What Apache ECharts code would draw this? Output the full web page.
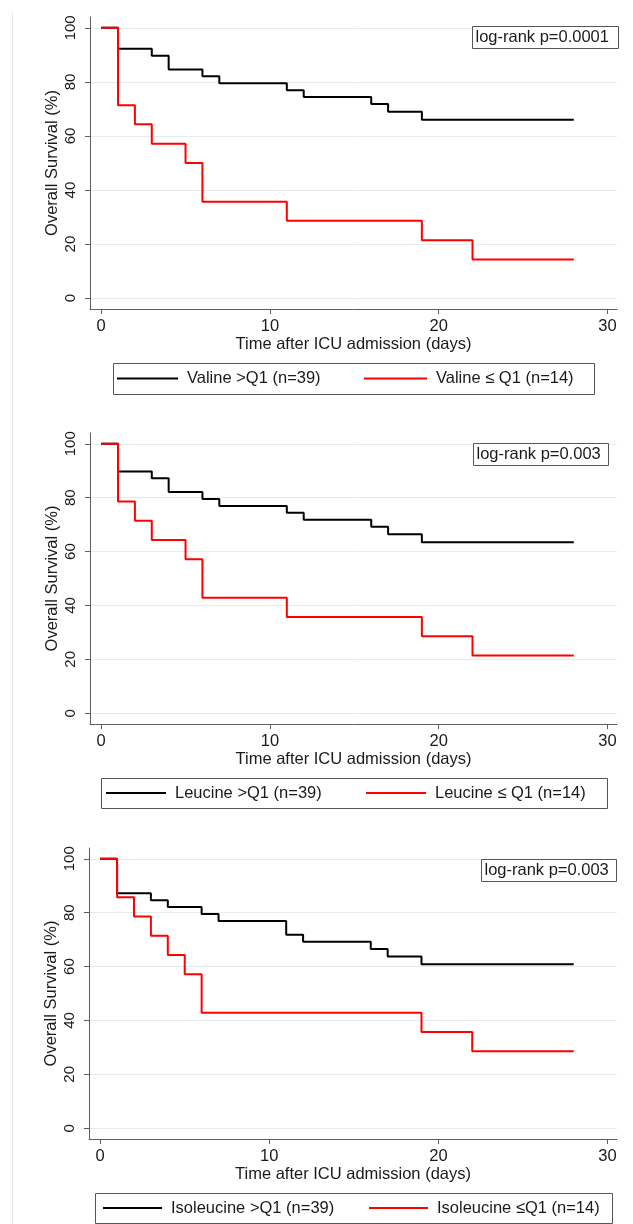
<!DOCTYPE html>
<html>
<head>
<meta charset="utf-8">
<script src="https://cdn.jsdelivr.net/npm/echarts@6/dist/echarts.min.js"></script>
<style>
html,body{margin:0;padding:0;background:#fff;}
#chart{width:633px;height:1224px;}
</style>
</head>
<body>
<div id="chart"></div>
<script>
// ---- data ----
const xTicks = [0, 10, 20, 30];
const yTicks = [0, 20, 40, 60, 80, 100];

const highNames = ['Valine >Q1 (n=39)', 'Leucine >Q1 (n=39)', 'Isoleucine >Q1 (n=39)'];
const lowNames = ['Valine \u2264 Q1 (n=14)', 'Leucine \u2264 Q1 (n=14)', 'Isoleucine \u2264Q1 (n=14)'];
const pValues = ['log-rank p=0.0001', 'log-rank p=0.003', 'log-rank p=0.003'];

const valineHighTime = [0, 1, 3, 4, 6, 7, 11, 12, 16, 17, 19, 28];
const valineHighSurv = [100, 92.3, 89.7, 84.6, 82.1, 79.5, 76.9, 74.4, 71.8, 69.0, 66.0, 66.0];
const valineLowTime = [0, 1, 2, 3, 5, 6, 11, 19, 22, 28];
const valineLowSurv = [100, 71.4, 64.3, 57.1, 50.0, 35.7, 28.6, 21.4, 14.3, 14.3];

const leucineHighTime = [0, 1, 3, 4, 6, 7, 11, 12, 16, 17, 19, 28];
const leucineHighSurv = [100, 89.7, 87.2, 82.1, 79.5, 76.9, 74.4, 71.8, 69.2, 66.4, 63.5, 63.5];
const leucineLowTime = [0, 1, 2, 3, 5, 6, 11, 19, 22, 28];
const leucineLowSurv = [100, 78.6, 71.4, 64.3, 57.1, 42.9, 35.7, 28.6, 21.4, 21.4];

const isoleucineHighTime = [0, 1, 3, 4, 6, 7, 11, 12, 16, 17, 19, 28];
const isoleucineHighSurv = [100, 87.2, 84.6, 82.1, 79.5, 76.9, 71.8, 69.2, 66.5, 63.7, 60.9, 60.9];
const isoleucineLowTime = [0, 1, 2, 3, 4, 5, 6, 19, 22, 28];
const isoleucineLowSurv = [100, 85.7, 78.6, 71.4, 64.3, 57.1, 42.9, 35.7, 28.6, 28.6];

// ---- layout ----
const FONT = '"Liberation Sans", Arial, sans-serif';
const FS = 16.5;
const TXT = '#1a1a1a';
const AX = '#5e5e5e';
const GRIDC = '#e4ecef';

const grids = [
  {left: 90, top: 17, width: 527, height: 292},
  {left: 90, top: 433, width: 527, height: 291},
  {left: 89, top: 848, width: 528, height: 291}
];
const curves = [
  [valineHighTime, valineHighSurv, valineLowTime, valineLowSurv],
  [leucineHighTime, leucineHighSurv, leucineLowTime, leucineLowSurv],
  [isoleucineHighTime, isoleucineHighSurv, isoleucineLowTime, isoleucineLowSurv]
];
const pBoxes = [
  {x: 472.5, y: 26.5, w: 146, h: 22},
  {x: 473.5, y: 443.5, w: 135, h: 22},
  {x: 481.5, y: 859.5, w: 135, h: 22}
];
const legBoxes = [
  {x: 113.5, y: 363.5, w: 481, h: 31, hi: 117, hiW: 61, lo: 364, loW: 63},
  {x: 101.5, y: 778.5, w: 506, h: 30, hi: 106, hiW: 60, lo: 366, loW: 60},
  {x: 95.5, y: 1193.5, w: 517, h: 30, hi: 103, hiW: 59, lo: 369, loW: 59}
];

const zip = (t, s) => t.map((v, i) => [v, s[i]]);

const option = {
  animation: false,
  backgroundColor: '#fff',
  textStyle: {fontFamily: FONT},
  grid: grids.map(g => Object.assign({containLabel: false}, g)),
  xAxis: grids.map((g, i) => ({
    type: 'value', gridIndex: i, min: -0.66, max: 30.56,
    name: 'Time after ICU admission (days)', nameLocation: 'middle', nameGap: 27,
    nameMoveOverlap: false,
    nameTextStyle: {fontFamily: FONT, fontSize: FS, color: TXT},
    axisLine: {show: true, onZero: false, lineStyle: {color: AX, width: 1}},
    axisTick: {show: true, length: 5, customValues: xTicks, lineStyle: {color: AX}},
    axisLabel: {customValues: xTicks, margin: 9, fontFamily: FONT, fontSize: FS, color: TXT},
    splitLine: {show: false}
  })),
  yAxis: grids.map((g, i) => ({
    type: 'value', gridIndex: i, min: -4, max: 104,
    name: 'Overall Survival (%)', nameLocation: 'middle', nameGap: 29, nameRotate: 90,
    nameMoveOverlap: false,
    nameTextStyle: {fontFamily: FONT, fontSize: FS, color: TXT},
    axisLine: {show: true, onZero: false, lineStyle: {color: AX, width: 1}},
    axisTick: {show: true, length: 5, customValues: yTicks, lineStyle: {color: AX}},
    axisLabel: {customValues: yTicks, rotate: 90, margin: 12, fontFamily: FONT, fontSize: 15, color: TXT},
    splitLine: {show: true, lineStyle: {color: GRIDC, width: 1}}
  })),
  legend: [],
  series: [],
  graphic: []
};

curves.forEach((c, i) => {
  option.series.push({
    name: highNames[i], type: 'line', step: 'end', xAxisIndex: i, yAxisIndex: i,
    symbol: 'none', z: 3, data: zip(c[0], c[1]),
    lineStyle: {color: '#000', width: 2}, itemStyle: {color: '#000'}
  });
  option.series.push({
    name: lowNames[i], type: 'line', step: 'end', xAxisIndex: i, yAxisIndex: i,
    symbol: 'none', z: 4, data: zip(c[2], c[3]),
    lineStyle: {color: '#ff0000', width: 2}, itemStyle: {color: '#ff0000'}
  });
  const lb = legBoxes[i];
  const cy = lb.y + lb.h / 2;
  option.legend.push({
    left: lb.hi, top: cy - 9, padding: 0, itemWidth: lb.hiW, itemHeight: 2, icon: 'rect',
    selectedMode: false, data: [highNames[i]],
    textStyle: {fontFamily: FONT, fontSize: FS, color: TXT, padding: [0, 0, 0, 4]}
  });
  option.legend.push({
    left: lb.lo, top: cy - 9, padding: 0, itemWidth: lb.loW, itemHeight: 2, icon: 'rect',
    selectedMode: false, data: [lowNames[i]],
    textStyle: {fontFamily: FONT, fontSize: FS, color: TXT, padding: [0, 0, 0, 4]}
  });
  option.graphic.push({
    type: 'rect', z: 0, silent: true,
    shape: {x: lb.x, y: lb.y, width: lb.w, height: lb.h},
    style: {fill: '#fff', stroke: '#555', lineWidth: 1}
  });
  const pb = pBoxes[i];
  option.graphic.push({
    type: 'rect', z: 10, silent: true,
    shape: {x: pb.x, y: pb.y, width: pb.w, height: pb.h},
    style: {fill: '#fff', stroke: '#555', lineWidth: 1}
  });
  option.graphic.push({
    type: 'text', z: 11, silent: true, x: pb.x + 3, y: pb.y + pb.h / 2,
    style: {text: pValues[i], font: FS + 'px ' + FONT, fill: TXT, verticalAlign: 'middle', align: 'left'}
  });
});

option.graphic.push({
  type: 'line', z: 0, silent: true,
  shape: {x1: 12.5, y1: 12, x2: 12.5, y2: 1224},
  style: {stroke: '#e6e6e6', lineWidth: 1}
});

const chart = echarts.init(document.getElementById('chart'), null, {renderer: 'canvas'});
chart.setOption(option);
</script>
</body>
</html>
